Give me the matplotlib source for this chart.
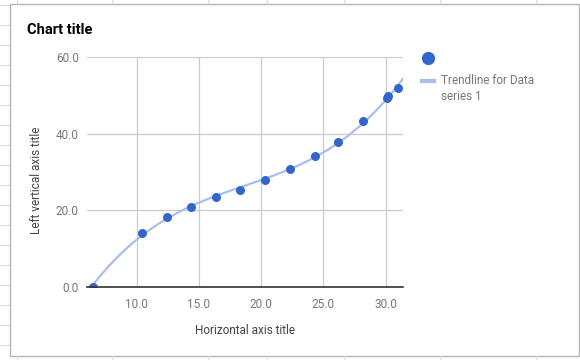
import numpy as np
from matplotlib import pyplot as plt
from matplotlib.lines import Line2D
from matplotlib.patches import Rectangle

plt.rcParams['font.family'] = ['Roboto', 'DejaVu Sans']

# data series
xs = [6.45, 10.43, 12.4, 14.35, 16.35, 18.3, 20.3, 22.3, 24.3, 26.2, 28.2, 30.12, 30.22, 31.0]
ys = [0.0, 14.2, 18.3, 21.0, 23.4, 25.4, 27.8, 30.7, 34.3, 37.7, 43.3, 49.3, 49.9, 51.8]

x_ticks = [10, 15, 20, 25, 30]
y_ticks = [0, 20, 40, 60]
x_range = (6.0, 31.4)
y_range = (0, 60)

W, H = 580, 360
fig = plt.figure(figsize=(W / 100, H / 100), dpi=100, facecolor='white')


def fx(px):
    return px / W


def fy(py):
    return 1 - py / H


# spreadsheet cells around the chart box
cell = '#dadada'
for px in [16.5, 112, 208, 267, 344, 440, 536]:
    fig.add_artist(Line2D([fx(px), fx(px)], [fy(0), fy(4)], color=cell, lw=0.8))
    fig.add_artist(Line2D([fx(px), fx(px)], [fy(356), fy(360)], color=cell, lw=0.8))
for py in range(5, 360, 20):
    fig.add_artist(Line2D([fx(0), fx(9)], [fy(py), fy(py)], color=cell, lw=0.8))

fig.add_artist(Rectangle((fx(9.5), fy(355.5)), fx(569), (351.5) / H, facecolor='white',
                         edgecolor='#b4b4b4', lw=1.0, zorder=0))

ax = fig.add_axes([fx(87), fy(287), fx(403) - fx(87), (287 - 57) / H])
ax.set_facecolor('none')
ax.set_xlim(*x_range)
ax.set_ylim(*y_range)

for s in ['top', 'right', 'left']:
    ax.spines[s].set_visible(False)
ax.spines['bottom'].set_color('#333333')
ax.spines['bottom'].set_linewidth(1.2)
ax.spines['bottom'].set_zorder(4)

ax.set_xticks(x_ticks)
ax.set_yticks(y_ticks)
ax.set_xticklabels(['%.1f' % v for v in x_ticks])
ax.set_yticklabels(['%.1f' % v for v in y_ticks])
ax.tick_params(length=0, labelsize=8.5, colors='#777777', pad=6)
ax.tick_params(axis='x', pad=8)
ax.grid(True, color='#cccccc', lw=0.9)
ax.set_axisbelow(True)

# cubic trendline over the visible range
coef = np.polyfit(xs, ys, 3)
tx = np.linspace(x_range[0], x_range[1], 300)
ax.plot(tx, np.polyval(coef, tx), color='#a8bfec', lw=1.6, zorder=2)
ax.scatter(xs, ys, s=42, color='#3366cc', zorder=3, linewidths=0)

fig.text(fx(27), fy(30), 'Chart title', fontsize=10.5, fontweight='bold',
         color='#000000', va='center', ha='left')
fig.text(fx(245), fy(331), 'Horizontal axis title', fontsize=8.5, color='#444444',
         ha='center', va='center')
fig.text(fx(36), fy(180), 'Left vertical axis title', fontsize=8.5, color='#444444',
         ha='center', va='center', rotation=90)

# legend
fig.add_artist(Line2D([fx(428)], [fy(58)], marker='o', markersize=8.5, color='#3366cc', lw=0))
fig.add_artist(Line2D([fx(422), fx(434)], [fy(81), fy(81)], color='#a8bfec', lw=3))
fig.text(fx(441), fy(81), 'Trendline for Data', fontsize=8.5, color='#777777', va='center')
fig.text(fx(441), fy(97), 'series 1', fontsize=8.5, color='#777777', va='center')

fig.savefig('out.png', dpi=100, facecolor='white')
